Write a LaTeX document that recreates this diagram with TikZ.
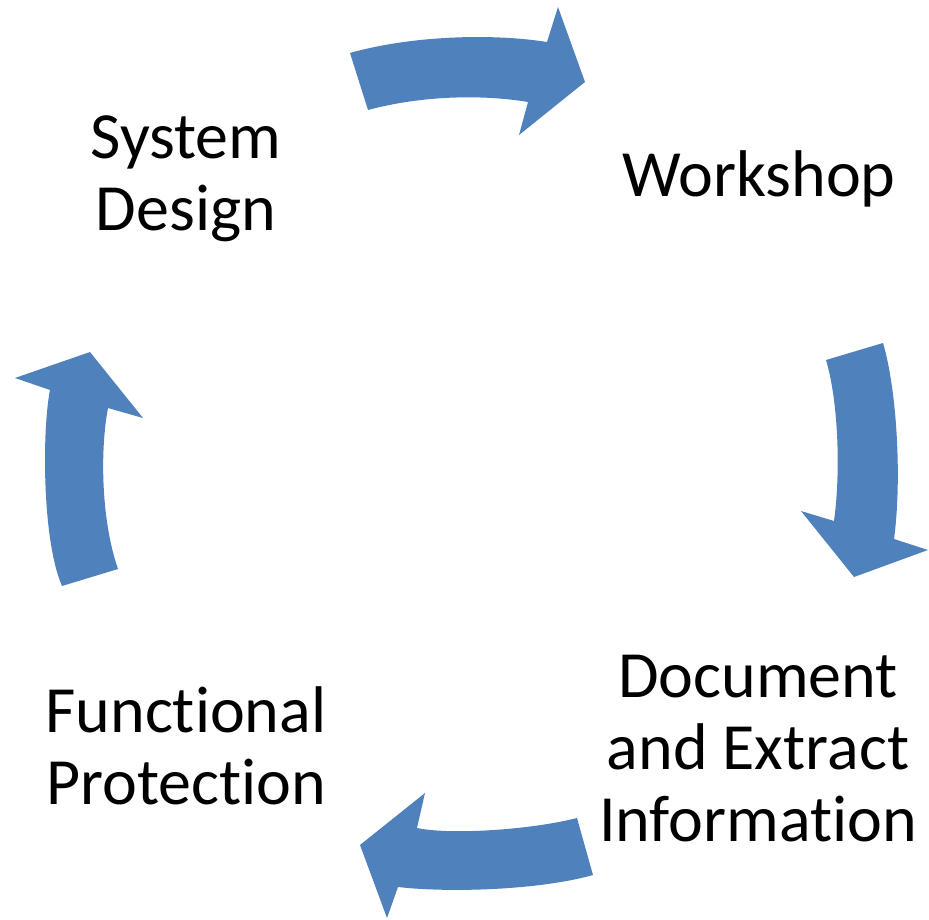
\documentclass[tikz,border=0pt]{standalone}
\usepackage{fontspec}
\setmainfont[Ligatures={NoCommon,NoRare}]{Carlito}
\definecolor{arrowblue}{HTML}{4F81BD}
\begin{document}
\begin{tikzpicture}[x=1pt,y=-1pt,
  blockarrow/.style={fill=arrowblue,draw=none},
  label/.style={anchor=base,inner sep=0pt,font=\fontsize{66}{72}\selectfont}]
\useasboundingbox (0,0) rectangle (929,920);
% top arrow
\fill[blockarrow] (350,53) .. controls (410,36) and (490,33) .. (547,42)
  -- (558,7) -- (585,82) -- (519,135) -- (528,102)
  .. controls (480,94) and (420,96) .. (368,110) -- cycle;
% right arrow
\fill[blockarrow] (826,360) -- (883,343) .. controls (897,390) and (902,480) .. (894,539)
  -- (928,550) -- (854,577) -- (801,511) -- (834,521)
  .. controls (841,470) and (838,400) .. cycle;
% bottom arrow
\fill[blockarrow] (577,818) -- (593,875) .. controls (540,890) and (450,893) .. (398,887)
  -- (387,918) -- (360,845) -- (425,793) -- (417,828)
  .. controls (450,835) and (530,830) .. cycle;
% left arrow
\fill[blockarrow] (62,586) -- (118,569) .. controls (101,520) and (100,450) .. (108,408)
  -- (143,418) -- (90,352) -- (15,378) -- (50,390)
  .. controls (42,430) and (42,540) .. cycle;
% labels
\node[label] (sys) at (186,159) {\begin{tabular}[t]{@{}c@{}}System\\Design\end{tabular}};
\node[label] (work) at (759,197) {Workshop};
\node[label] (doc) at (758,697) {\begin{tabular}[t]{@{}c@{}}Document\\and Extract\\Information\end{tabular}};
\node[label] (func) at (186,732) {\begin{tabular}[t]{@{}c@{}}Functional\\Protection\end{tabular}};
\end{tikzpicture}
\end{document}
